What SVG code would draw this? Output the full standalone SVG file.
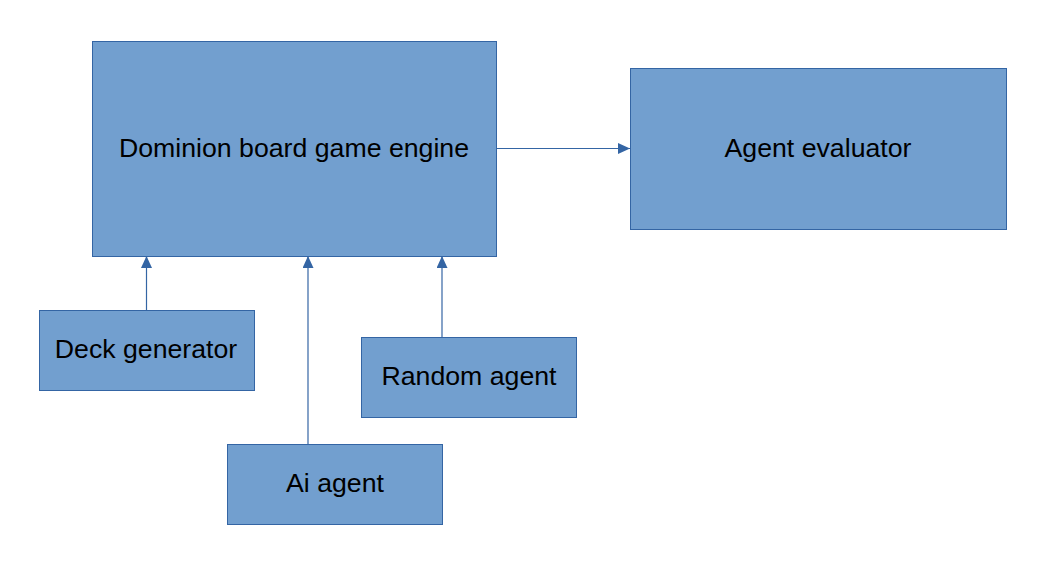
<svg xmlns="http://www.w3.org/2000/svg" width="1055" height="573" viewBox="0 0 1055 573">
<style>
.box{fill:#729fcf;stroke:#3465a4;stroke-width:1}
.lbl{font-family:"Liberation Sans",Arial,sans-serif;font-size:26.7px;fill:#000;text-anchor:middle}
.conn{stroke:#3465a4;stroke-width:1.2;fill:none;marker-end:url(#ah)}
</style>
<defs>
<marker id="ah" viewBox="0 0 12 11" refX="12" refY="5.5" markerWidth="12" markerHeight="11" markerUnits="userSpaceOnUse" orient="auto">
<path d="M0,0 L12,5.5 L0,11 Z" fill="#3465a4"/>
</marker>
</defs>
<rect width="1055" height="573" fill="#fff"/>
<g id="connectors">
<line class="conn" x1="496" y1="148.5" x2="630" y2="148.5"/>
<line class="conn" x1="146.5" y1="310" x2="146.5" y2="256"/>
<line class="conn" x1="308" y1="444" x2="308" y2="256"/>
<line class="conn" x1="442" y1="337" x2="442" y2="256"/>
</g>
<g id="engine">
<rect class="box" x="92.5" y="41.5" width="404" height="215"/>
<text class="lbl" x="294" y="157">Dominion board game engine</text>
</g>
<g id="evaluator">
<rect class="box" x="630.5" y="68.5" width="376" height="161"/>
<text class="lbl" x="818" y="157">Agent evaluator</text>
</g>
<g id="deck">
<rect class="box" x="39.5" y="310.5" width="215" height="80"/>
<text class="lbl" x="146" y="358">Deck generator</text>
</g>
<g id="random">
<rect class="box" x="361.5" y="337.5" width="215" height="80"/>
<text class="lbl" x="469" y="385">Random agent</text>
</g>
<g id="ai">
<rect class="box" x="227.5" y="444.5" width="215" height="80"/>
<text class="lbl" x="335" y="492">Ai agent</text>
</g>
</svg>
